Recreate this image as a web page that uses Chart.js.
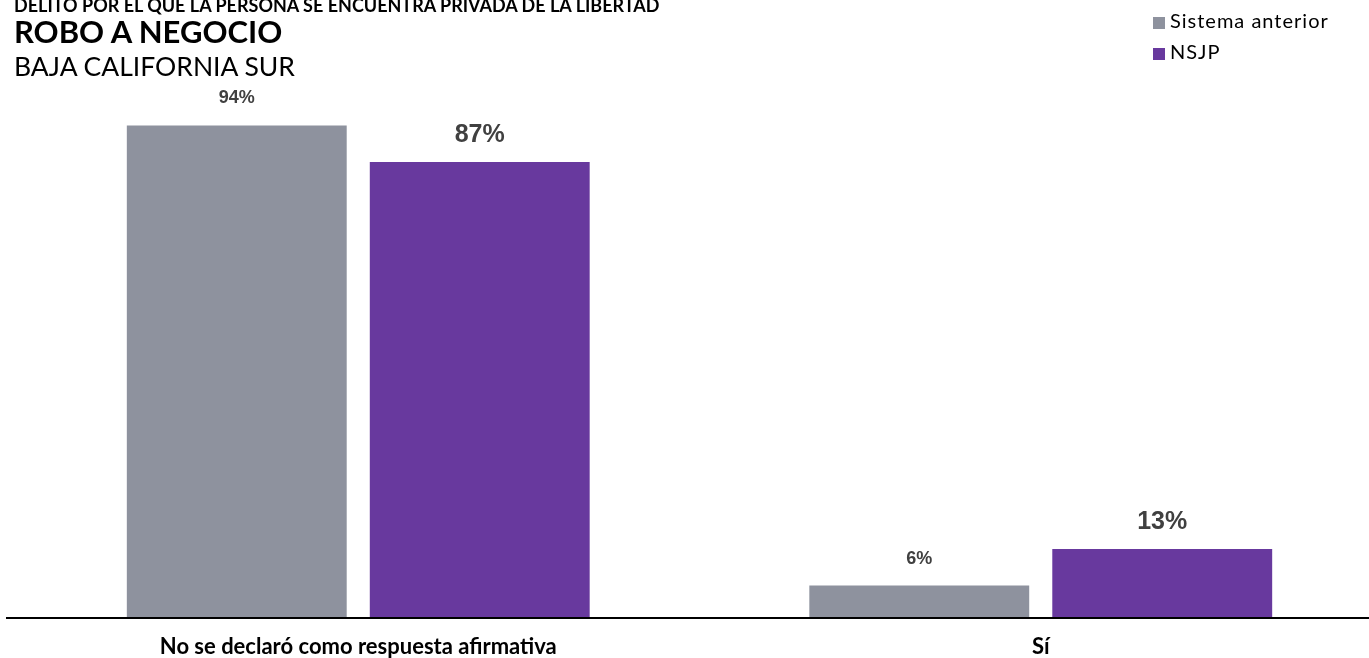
<!DOCTYPE html>
<html>
<head>
<meta charset="utf-8">
<script src="https://cdn.jsdelivr.net/npm/chart.js@4/dist/chart.umd.min.js"></script>
<style>
  html, body { margin: 0; padding: 0; background: #fff; overflow: hidden; }
  #wrap { position: relative; width: 1369px; height: 658px; overflow: hidden; }
  #box { position: absolute; left: 0; top: 0; width: 1383px; height: 658px; }
  .t { position: absolute; left: 14px; font-family: Lato, sans-serif; color: #000; white-space: nowrap; }
  #sup { top: -4px; font-size: 18px; font-weight: bold; line-height: 18px; }
  #title { top: 14px; font-size: 31px; font-weight: bold; line-height: 34px; }
  #sub { top: 51px; font-size: 26.5px; line-height: 30px; }
  #legend { position: absolute; left: 1153px; top: 9px; font-family: Lato, sans-serif; font-size: 20px; letter-spacing: 1px; }
  #legend div { height: 31px; line-height: 22px; white-space: nowrap; }
  #legend span { display: inline-block; width: 12px; height: 12px; margin-right: 5px; vertical-align: -1px; }
</style>
</head>
<body>
<div id="wrap">
  <div id="box"><canvas id="myChart"></canvas></div>
  <div class="t" id="sup">DELITO POR EL QUE LA PERSONA SE ENCUENTRA PRIVADA DE LA LIBERTAD</div>
  <div class="t" id="title">ROBO A NEGOCIO</div>
  <div class="t" id="sub">BAJA CALIFORNIA SUR</div>
  <div id="legend"></div>
</div>
<script>
// Datos del gráfico
const categories = ["No se declaró como respuesta afirmativa", "Sí"];
const seriesNames = ["Sistema anterior", "NSJP"];
const sistemaAnterior = [94, 6];
const nsjp = [87, 13];
const seriesColors = ["#8e929e", "#68399e"];
const labelSizes = [18, 25];

// Leyenda en HTML
const legend = document.getElementById("legend");
seriesNames.forEach((name, i) => {
  const row = document.createElement("div");
  row.innerHTML = '<span style="background:' + seriesColors[i] + '"></span>' + name;
  legend.appendChild(row);
});

// Etiquetas de valor encima de las barras + línea del eje
const valueLabels = {
  id: "valueLabels",
  afterDatasetsDraw(chart) {
    const ctx = chart.ctx;
    ctx.save();
    ctx.fillStyle = "#404040";
    ctx.textAlign = "center";
    ctx.textBaseline = "middle";
    chart.data.datasets.forEach((ds, i) => {
      const meta = chart.getDatasetMeta(i);
      ctx.font = "bold " + labelSizes[i] + "px 'Liberation Sans', Arial, sans-serif";
      meta.data.forEach((bar, j) => {
        ctx.fillText(ds.data[j] + "%", bar.x, bar.y - 27);
      });
    });
    const y = chart.chartArea.bottom + 1;
    ctx.strokeStyle = "#000";
    ctx.lineWidth = 2;
    ctx.beginPath();
    ctx.moveTo(6, y);
    ctx.lineTo(chart.width, y);
    ctx.stroke();
    ctx.restore();
  },
};

const ctx = document.getElementById("myChart").getContext("2d");
const myChart = new Chart(ctx, {
  type: "bar",
  data: {
    labels: categories,
    datasets: [
      {
        label: seriesNames[0],
        data: sistemaAnterior,
        backgroundColor: seriesColors[0],
        categoryPercentage: 0.712,
        barPercentage: 0.905,
      },
      {
        label: seriesNames[1],
        data: nsjp,
        backgroundColor: seriesColors[1],
        categoryPercentage: 0.712,
        barPercentage: 0.905,
      },
    ],
  },
  options: {
    responsive: true,
    maintainAspectRatio: false,
    animation: false,
    layout: { padding: { top: 94, left: 17, right: 1, bottom: 0 } },
    plugins: {
      legend: { display: false },
      tooltip: { enabled: false },
    },
    scales: {
      x: {
        grid: { display: false, drawTicks: false },
        border: { display: false },
        afterFit: (scale) => {
          scale.height = 41;
        },
        ticks: {
          color: "#000",
          padding: 17,
          font: { family: "Lato", size: 22, weight: "bold" },
        },
      },
      y: {
        display: false,
        min: 0,
        max: 100,
      },
    },
  },
  plugins: [valueLabels],
});
</script>
</body>
</html>
